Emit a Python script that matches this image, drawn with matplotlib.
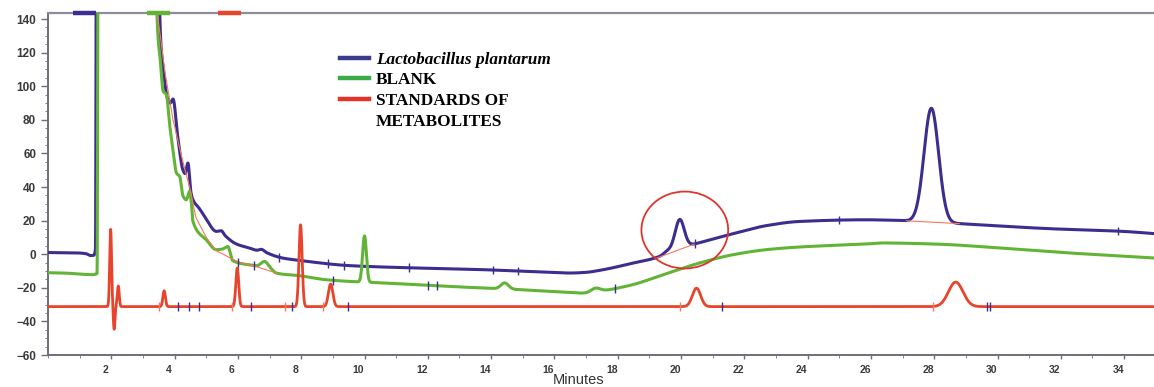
import numpy as np
import matplotlib
matplotlib.use("Agg")
import matplotlib.pyplot as plt
from matplotlib.patches import Ellipse
from matplotlib.lines import Line2D
from matplotlib.ticker import MultipleLocator
from matplotlib.transforms import ScaledTranslation

# ---- Chromatogram data (time in minutes, detector response) ----
# Lactobacillus plantarum: baseline knots + resolved peaks
lp_base_t = [0.0, 0.9, 1.2, 1.35, 1.45, 1.50, 1.54, 3.50, 3.53, 3.63, 3.79, 3.86, 3.95,
             4.10, 4.26, 4.33, 4.42, 4.52, 4.58, 4.79, 4.95, 5.32, 5.47, 5.60, 5.95,
             6.36, 6.60, 6.74, 6.90, 7.42, 7.95, 9.53, 11.64, 13.74, 15.85, 16.50,
             17.00, 17.43, 18.48, 19.32, 19.59, 20.43, 21.64, 22.69, 23.74, 25.85,
             27.12, 28.80, 31.64, 33.96, 35.0]
lp_base_y = [1.0, 0.8, 0.3, -0.8, -0.6, 3.0, 300, 300, 144, 112, 92, 90, 92.4,
             70, 50.3, 48, 54.3, 36.4, 32.4, 27, 22.5, 13.6, 14, 11, 6.1,
             3.7, 2.4, 2.9, 1.0, -2.3, -3.7, -6.8, -8.2, -9.2, -10.8, -11.2,
             -10.8, -9.6, -5.3, -1.3, 2.2, 6.1, 12.2, 17.0, 19.5, 20.5,
             19.9, 18.2, 15.2, 13.6, 12.2]
lp_peak_t = [19.96, 27.91]
lp_peak_h = [16.5, 67.7]
lp_peak_w = [0.14, 0.23]

# Blank
blank_base_t = [0.0, 0.5, 1.0, 1.4, 1.55, 1.60, 3.40, 3.44, 3.55, 3.64, 3.74, 3.85,
                3.95, 4.06, 4.16, 4.27, 4.37, 4.47, 4.53, 4.58, 5.00, 5.32, 5.50,
                5.68, 5.84, 6.36, 6.60, 6.84, 7.05, 7.21, 7.95, 8.79, 9.53, 10.58,
                12.69, 14.20, 14.80, 15.85, 16.50, 17.00, 17.74, 18.46, 19.53,
                20.59, 21.64, 22.69, 23.74, 25.85, 26.38, 27.96, 28.49, 30.07,
                31.96, 33.76, 35.0]
blank_base_y = [-11.0, -11.2, -11.8, -12.2, -11.5, 300, 300, 144, 115, 97, 95, 76,
                62, 48.3, 46.3, 34.4, 32.4, 37.4, 30.5, 19.5, 8.6, 2.7, 3.0,
                4.6, -3.9, -6.3, -6.8, -4.3, -8.5, -11.2, -12.8, -15.2, -16.2, -17.1,
                -19.2, -20.5, -21.0, -22.1, -22.8, -23.2, -21.1, -18.2, -11.6,
                -5.2, -0.3, 2.7, 4.3, 6.1, 6.7, 6.1, 5.7, 3.7,
                1.1, -0.9, -2.3]
blank_peak_t = [10.0, 14.43, 17.30]
blank_peak_h = [27.5, 3.6, 2.5]
blank_peak_w = [0.06, 0.12, 0.15]

# Standards of metabolites
std_base_t = [0.0, 35.0]
std_base_y = [-31.2, -31.2]
std_peak_t = [1.98, 2.09, 2.22, 3.67, 5.98, 7.98, 8.93, 20.49, 28.68]
std_peak_h = [46.0, -13.5, 12.3, 9.4, 23.0, 48.7, 13.5, 11.0, 14.6]
std_peak_w = [0.03, 0.025, 0.03, 0.04, 0.045, 0.05, 0.07, 0.13, 0.23]

# Integration baselines drawn by the data system
ib_peak20_t = [19.20, 20.43]
ib_peak20_y = [-2.5, 6.1]
ib_peak28_t = [27.12, 28.80]
ib_peak28_y = [19.9, 18.2]
ib_front_t = [3.45, 3.70, 3.95, 4.25, 4.50, 4.67, 5.00, 5.32, 6.00, 6.60, 7.21]
ib_front_y = [144, 108, 80, 56, 38, 22, 10, 2.0, -4.5, -7.5, -11.2]

# Peak start/stop event marks
ev_std_blue = [4.12, 4.47, 4.76, 6.40, 7.70, 9.48, 21.30, 29.66, 29.76]
ev_std_red = [3.50, 5.80, 7.50, 8.70, 19.98, 27.96]
ev_lp_blue = [7.30, 8.85, 9.35, 11.40, 14.05, 14.85, 20.45, 25.00, 33.80]
ev_blank_blue = [6.00, 6.50, 9.00, 12.00, 12.30, 17.90]

legend_labels = ["Lactobacillus plantarum", "BLANK", "STANDARDS OF", "METABOLITES"]

C_LP = "#3c2d8e"
C_BLANK = "#62b436"
C_STD = "#e8432b"
C_IB = "#f07a5a"


def pchip(x, y, xi):
    """Monotone piecewise-cubic Hermite interpolation."""
    x = np.asarray(x, float)
    y = np.asarray(y, float)
    h = np.diff(x)
    d = np.diff(y) / h
    m = np.zeros_like(y)
    for k in range(1, len(x) - 1):
        if d[k - 1] * d[k] > 0:
            w1 = 2 * h[k] + h[k - 1]
            w2 = h[k] + 2 * h[k - 1]
            m[k] = (w1 + w2) / (w1 / d[k - 1] + w2 / d[k])
    m[0], m[-1] = d[0], d[-1]
    idx = np.clip(np.searchsorted(x, xi, side="right") - 1, 0, len(x) - 2)
    s = (xi - x[idx]) / h[idx]
    h00 = 2 * s**3 - 3 * s**2 + 1
    h10 = s**3 - 2 * s**2 + s
    h01 = -2 * s**3 + 3 * s**2
    h11 = s**3 - s**2
    return (h00 * y[idx] + h10 * h[idx] * m[idx]
            + h01 * y[idx + 1] + h11 * h[idx] * m[idx + 1])


def trace(base_t, base_y, pk_t, pk_h, pk_w):
    t = np.union1d(np.linspace(0, 35, 7001), base_t)
    y = pchip(base_t, base_y, t)
    for c, h, w in zip(pk_t, pk_h, pk_w):
        y = y + h * np.exp(-0.5 * ((t - c) / w) ** 2)
    return t, y


fig = plt.figure(figsize=(11.54, 3.87), dpi=100)
ax = fig.add_axes([48 / 1154, 32 / 387, 1107.75 / 1154, 342 / 387])

t_lp, y_lp = trace(lp_base_t, lp_base_y, lp_peak_t, lp_peak_h, lp_peak_w)
t_bl, y_bl = trace(blank_base_t, blank_base_y, blank_peak_t, blank_peak_h, blank_peak_w)
t_sd, y_sd = trace(std_base_t, std_base_y, std_peak_t, std_peak_h, std_peak_w)

ax.plot(t_lp, y_lp, color=C_LP, lw=2.2, zorder=3, solid_joinstyle="round")
ax.plot(t_bl, y_bl, color=C_BLANK, lw=2.2, zorder=4, solid_joinstyle="round")
ax.plot(t_sd, y_sd, color=C_STD, lw=2.0, zorder=5, solid_joinstyle="round")

for bt, by in [(ib_peak20_t, ib_peak20_y), (ib_peak28_t, ib_peak28_y), (ib_front_t, ib_front_y)]:
    ax.plot(bt, by, color=C_IB, lw=0.8, zorder=6)


def marks(times, tt, yy, color):
    ym = np.interp(times, tt, yy)
    ax.vlines(times, ym - 2.6, ym + 2.6, color=color, lw=1.0, zorder=7)


marks(ev_std_blue, t_sd, y_sd, C_LP)
marks(ev_std_red, t_sd, y_sd, C_IB)
marks(ev_lp_blue, t_lp, y_lp, C_LP)
marks(ev_blank_blue, t_bl, y_bl, C_LP)

# Highlight around the small peak near 20 min
ax.add_patch(Ellipse((20.12, 14.4), 2.74, 45.8, fill=False, ec="#e0342c", lw=1.3, zorder=8))

ax.set_xlim(0, 35)
ax.set_ylim(-60, 143.6)

# Trace colour keys along the top edge
for (a, b), c in zip([(0.78, 1.51), (3.12, 3.85), (5.36, 6.09)], [C_LP, C_BLANK, C_STD]):
    ax.plot([a, b], [143.6, 143.6], color=c, lw=3.2, solid_capstyle="butt",
            clip_on=False, zorder=10)

ax.xaxis.set_minor_locator(MultipleLocator(1))
ax.yaxis.set_minor_locator(MultipleLocator(5))
ax.set_xticks(np.arange(2, 35, 2))
ax.set_yticks(np.arange(-60, 141, 20))

for s in ["left", "bottom"]:
    ax.spines[s].set_color("#6e6e78")
    ax.spines[s].set_linewidth(1.4)
ax.spines["top"].set_color("#8c8c9c")
ax.spines["top"].set_linewidth(1.6)
ax.spines["right"].set_visible(False)

ax.tick_params(axis="both", which="major", direction="out", color="#6e6e78",
               width=1.0, labelcolor="#3a3a3a")
ax.tick_params(axis="x", which="major", length=3, pad=4, labelsize=7.5)
ax.tick_params(axis="x", which="minor", length=2, color="#6e6e78")
ax.tick_params(axis="y", which="major", length=5, pad=3.5, labelsize=8.5)
ax.tick_params(axis="y", which="minor", length=2.5, color="#6e6e78")

for lab in ax.get_xticklabels() + ax.get_yticklabels():
    lab.set_fontfamily("Liberation Sans")
    lab.set_fontweight("bold")
shift = ScaledTranslation(-6 / 100, 0, fig.dpi_scale_trans)
for lab in ax.get_xticklabels():
    lab.set_transform(lab.get_transform() + shift)

fig.text(579 / 1154, 1 - 380.5 / 387, "Minutes", fontsize=10.5, family="Liberation Sans",
         color="#333333", ha="center", va="center")

# Legend block
leg_x0, leg_x1 = 340 / 1154, 369 / 1154
handle_rows = [57.5, 77.5, 98.5]
for yy, c in zip(handle_rows, ["#3b3a8f", "#3aab45", "#e5322b"]):
    yf = 1 - yy / 387
    fig.add_artist(Line2D([leg_x0, leg_x1], [yf, yf], color=c, lw=3.2,
                          transform=fig.transFigure))
text_rows = [58.5, 77.5, 98.5, 120.0]
for yy, lab, style in zip(text_rows, legend_labels, ["italic", "normal", "normal", "normal"]):
    fig.text(376 / 1154, 1 - yy / 387, lab, family="Liberation Serif", fontsize=12.4,
             fontweight="bold", style=style, va="center_baseline", ha="left")

fig.savefig("out.png", dpi=100)
